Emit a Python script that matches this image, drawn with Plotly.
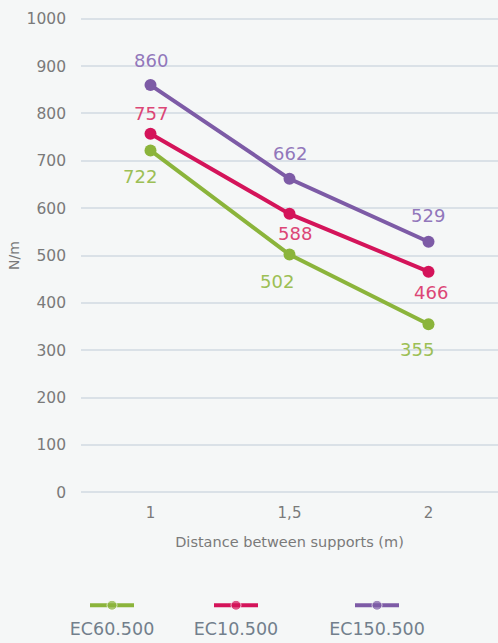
import plotly.graph_objects as go

# distances between supports (m)
distances = [1, 1.5, 2]
distance_labels = ["1", "1,5", "2"]

# load (N/m) per series
series_names = ["EC60.500", "EC10.500", "EC150.500"]
ec60 = [722, 502, 355]
ec10 = [757, 588, 466]
ec150 = [860, 662, 529]

line_colors = ["#8bb43b", "#d4145a", "#7d5ba6"]
text_colors = ["#9cbf55", "#dc4676", "#9277bb"]
# label offsets in px (dx, dy) relative to each point
label_shift = [
    [(-11, -26), (-13, -27), (-12, -25)],
    [(0, 20), (5, -20), (2, -21)],
    [(0, 25), (0, 25), (-1, 26)],
]

FONT = "DejaVu Sans, sans-serif"
BG = "#f5f7f7"
TXT = "#7a7a7a"

fig = go.Figure()

for name, vals, lc, tc, shifts in zip(series_names, [ec60, ec10, ec150],
                                      line_colors, text_colors, label_shift):
    fig.add_trace(go.Scatter(
        x=distances, y=vals, name=name,
        mode="lines+markers",
        line=dict(color=lc, width=4),
        marker=dict(color=lc, size=12),
        showlegend=False,
    ))
    for d, v, (dx, dy) in zip(distances, vals, shifts):
        fig.add_annotation(
            x=d, y=v, text=str(v), showarrow=False,
            xshift=dx, yshift=dy,
            font=dict(family=FONT, size=18, color=tc),
        )

# custom legend: symbol above, name below
legend_x = [112, 236, 377]
for name, lc, lx in zip(series_names, line_colors, legend_x):
    fig.add_trace(go.Scatter(
        x=[lx - 22, lx, lx + 22], y=[0.6, 0.6, 0.6],
        xaxis="x2", yaxis="y2", mode="lines+markers",
        line=dict(color=lc, width=4),
        marker=dict(color=lc, size=[0, 10, 0]),
        showlegend=False, hoverinfo="skip",
    ))
    fig.add_trace(go.Scatter(
        x=[lx], y=[0.2], xaxis="x2", yaxis="y2", mode="text",
        text=[name], cliponaxis=False,
        textfont=dict(family=FONT, size=17.5, color="#727f8c"),
        showlegend=False, hoverinfo="skip",
    ))

fig.update_layout(
    width=498, height=643,
    margin=dict(l=81, r=0, t=14, b=0),
    paper_bgcolor=BG, plot_bgcolor=BG,
    font=dict(family=FONT, color=TXT, size=15.5),
    xaxis=dict(
        range=[0.75, 2.25], tickvals=distances, ticktext=distance_labels,
        showgrid=False, zeroline=False, showline=False, ticks="",
        ticklabelstandoff=5, automargin=False,
        tickfont=dict(size=15),
        title=dict(text="Distance between supports (m)",
                   font=dict(size=14.5, color=TXT), standoff=15),
        domain=[0, 1],
    ),
    yaxis=dict(
        range=[-10, 1010], dtick=100, domain=[0.232, 1],
        showgrid=True, gridcolor="#dae1e7", gridwidth=2,
        zeroline=False, showline=False, ticks="", ticklabelstandoff=14,
        automargin=False,
        title=dict(text="N/m", font=dict(size=14, color=TXT), standoff=3),
    ),
    xaxis2=dict(range=[81, 498], domain=[0, 1], anchor="y2", visible=False),
    yaxis2=dict(range=[0, 1], domain=[0, 0.1], anchor="x2", visible=False),
)

fig.write_html("out.html", config={"displayModeBar": False},
               post_script="document.body.style.margin='0';")
